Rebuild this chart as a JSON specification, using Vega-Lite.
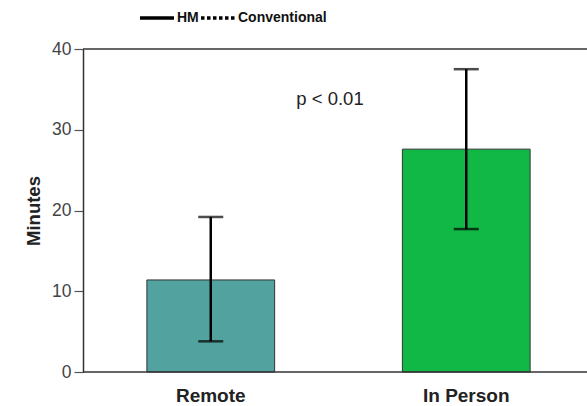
{
  "$schema": "https://vega.github.io/schema/vega-lite/v6.json",
  "autosize": {"type": "none"},
  "padding": {"left": 83, "top": 49, "right": 0, "bottom": 34},
  "width": 504,
  "height": 323,
  "config": {
    "view": {"stroke": null},
    "font": "Liberation Sans"
  },
  "datasets": {
    "groups": [
      {"setting": "Remote", "minutes": 11.4, "low": 3.8, "high": 19.2},
      {"setting": "In Person", "minutes": 27.6, "low": 17.7, "high": 37.5}
    ],
    "series": [
      {"method": "HM", "minutes": 0},
      {"method": "Conventional", "minutes": 0}
    ],
    "note": [
      {"label": "p < 0.01", "minutes": 33.8}
    ],
    "frame": [
      {"minutes": 40}
    ]
  },
  "encoding": {
    "y": {
      "type": "quantitative",
      "scale": {"domain": [0, 40], "nice": false, "zero": true}
    }
  },
  "layer": [
    {
      "data": {"name": "groups"},
      "mark": {"type": "bar", "stroke": "#333333", "strokeWidth": 1},
      "encoding": {
        "x": {
          "field": "setting",
          "type": "nominal",
          "sort": ["Remote", "In Person"],
          "scale": {"paddingInner": 0.5, "paddingOuter": 0.25, "range": [0, 511]},
          "axis": {
            "title": null,
            "domain": false,
            "ticks": false,
            "labelAngle": 0,
            "labelFont": "Liberation Sans",
            "labelFontSize": 19,
            "labelFontWeight": "bold",
            "labelColor": "#222222",
            "labelPadding": 14
          }
        },
        "y": {
          "field": "minutes",
          "type": "quantitative",
          "axis": {
            "title": "Minutes",
            "titleFont": "Liberation Sans",
            "titleFontSize": 18.5,
            "titleFontWeight": "bold",
            "titleColor": "#222222",
            "titlePadding": 8,
            "values": [0, 10, 20, 30, 40],
            "grid": false,
            "domainColor": "#333333",
            "domainWidth": 1.5,
            "tickColor": "#555555",
            "tickSize": 9,
            "tickWidth": 1.2,
            "labelFont": "Liberation Sans",
            "labelFontSize": 17.5,
            "labelColor": "#444444",
            "labelPadding": 3
          }
        },
        "fill": {
          "field": "setting",
          "type": "nominal",
          "scale": {"domain": ["Remote", "In Person"], "range": ["#52a29f", "#12b845"]},
          "legend": null
        }
      }
    },
    {
      "data": {"name": "groups"},
      "mark": {"type": "rule", "color": "#000000", "strokeWidth": 2.5},
      "encoding": {
        "x": {"field": "setting", "type": "nominal", "sort": ["Remote", "In Person"]},
        "y": {"field": "low", "type": "quantitative"},
        "y2": {"field": "high"}
      }
    },
    {
      "data": {"name": "groups"},
      "mark": {"type": "tick", "color": "#000000", "size": 25, "thickness": 2.5},
      "encoding": {
        "x": {"field": "setting", "type": "nominal", "sort": ["Remote", "In Person"]},
        "y": {"field": "low", "type": "quantitative"}
      }
    },
    {
      "data": {"name": "groups"},
      "mark": {"type": "tick", "color": "#000000", "size": 25, "thickness": 2.5},
      "encoding": {
        "x": {"field": "setting", "type": "nominal", "sort": ["Remote", "In Person"]},
        "y": {"field": "high", "type": "quantitative"}
      }
    },
    {
      "data": {"name": "frame"},
      "mark": {"type": "rule", "color": "#333333", "strokeWidth": 1.5},
      "encoding": {
        "y": {"field": "minutes", "type": "quantitative"}
      }
    },
    {
      "data": {"name": "note"},
      "mark": {"type": "rule", "color": "#333333", "strokeWidth": 1.5},
      "encoding": {
        "y": {"datum": 0, "type": "quantitative"}
      }
    },
    {
      "data": {"name": "note"},
      "mark": {
        "type": "text",
        "font": "Liberation Sans",
        "fontSize": 18.5,
        "color": "#222222",
        "baseline": "middle",
        "dx": -5
      },
      "encoding": {
        "y": {"field": "minutes", "type": "quantitative"},
        "text": {"field": "label"}
      }
    },
    {
      "data": {"name": "series"},
      "mark": {"type": "line", "opacity": 0},
      "encoding": {
        "y": {"field": "minutes", "type": "quantitative"},
        "strokeDash": {
          "field": "method",
          "type": "nominal",
          "sort": ["HM", "Conventional"],
          "scale": {"domain": ["HM", "Conventional"], "range": [[1, 0], [3.5, 2.5]]},
          "legend": {
            "title": null,
            "orient": "none",
            "legendX": 55,
            "legendY": -50,
            "direction": "horizontal",
            "symbolType": "stroke",
            "symbolSize": 1156,
            "symbolStrokeWidth": 3.5,
            "symbolStrokeColor": "#000000",
            "symbolOpacity": 1,
            "labelFont": "Liberation Sans",
            "labelFontSize": 14,
            "labelFontWeight": "bold",
            "labelColor": "#111111",
            "labelOffset": 1,
            "columnPadding": -6
          }
        }
      }
    }
  ]
}
